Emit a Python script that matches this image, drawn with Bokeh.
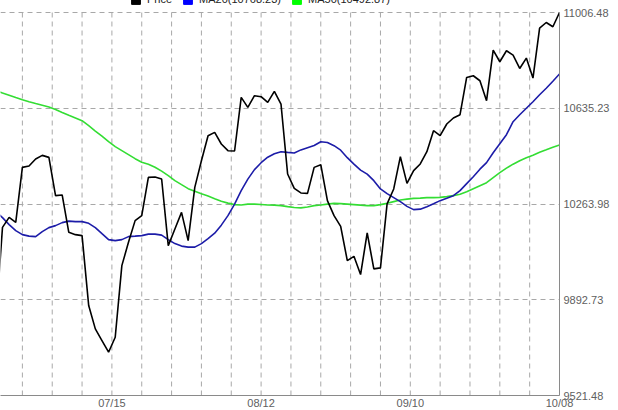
from bokeh.plotting import figure
from bokeh.models import Range1d, FixedTicker, Legend, LegendItem, PrintfTickFormatter, CustomJSTickFormatter
from bokeh.embed import file_html
from bokeh.resources import INLINE

# ---- data (index -1 is the partly clipped first point) ----
price = [
    9812.0,
    10173.5, 10212.3, 10192.9, 10406.0, 10411.4, 10438.5, 10452.5, 10444.7, 10296.3, 10299.0,
    10154.2, 10145.2, 10141.4, 9870.2, 9779.9, 9734.6, 9689.3, 9747.4, 10025.1, 10115.4,
    10199.5, 10218.9, 10367.2, 10368.4, 10361.0, 10102.6, 10167.3, 10231.6, 10122.0, 10328.5,
    10431.9, 10528.8, 10541.6, 10496.6, 10470.7, 10469.5, 10677.2, 10638.4, 10683.8, 10679.9,
    10657.8, 10700.4, 10651.6, 10380.4, 10324.6, 10306.8, 10305.2, 10406.0, 10416.4, 10277.0,
    10218.9, 10177.4, 10044.5, 10061.2, 9990.3, 10151.8, 10012.4, 10016.2, 10264.2, 10322.3,
    10447.4, 10344.0, 10393.2, 10419.1, 10466.8, 10548.2, 10528.8, 10574.1, 10597.4, 10610.2,
    10754.7, 10761.2, 10741.9, 10664.4, 10860.8, 10815.5, 10858.1, 10841.4, 10789.5, 10829.8,
    10752.3, 10946.0, 10967.7, 10951.1, 11006.48,
]
ma20 = [
    10234.3,
    10211.1, 10184.0, 10160.7, 10145.2, 10139.4, 10137.5, 10156.9, 10172.4, 10180.1, 10191.7,
    10197.5, 10195.6, 10195.6, 10189.0, 10172.4, 10149.1, 10125.9, 10122.0, 10125.9, 10137.5,
    10139.4, 10141.4, 10147.2, 10147.2, 10143.3, 10125.9, 10110.4, 10100.7, 10096.8, 10096.8,
    10110.4, 10129.7, 10151.0, 10182.0, 10218.8, 10263.4, 10315.7, 10360.3, 10397.1, 10424.2,
    10445.5, 10459.0, 10466.8, 10464.1, 10461.8, 10473.8, 10482.3, 10490.8, 10505.5, 10502.4,
    10490.0, 10472.6, 10443.6, 10418.4, 10395.1, 10379.6, 10354.4, 10322.3, 10304.1, 10288.6,
    10273.1, 10254.9, 10242.1, 10244.0, 10253.7, 10265.3, 10277.0, 10286.6, 10296.3, 10315.7,
    10342.8, 10369.9, 10399.0, 10424.2, 10462.9, 10497.8, 10532.7, 10583.0, 10610.1, 10635.3,
    10660.5, 10687.6, 10712.8, 10739.9, 10768.23,
]
ma50 = [
    10703.1,
    10694.2, 10685.7, 10676.8, 10668.3, 10660.5, 10653.5, 10646.9, 10640.0, 10630.7, 10618.7,
    10607.8, 10597.4, 10586.9, 10567.5, 10547.0, 10526.8, 10505.5, 10486.2, 10470.7, 10455.2,
    10439.7, 10426.1, 10418.4, 10406.7, 10391.2, 10373.8, 10354.4, 10338.9, 10323.5, 10313.8,
    10304.1, 10295.2, 10284.7, 10274.3, 10267.3, 10261.5, 10260.3, 10263.4, 10263.4, 10262.3,
    10260.3, 10259.5, 10257.6, 10253.7, 10250.6, 10249.1, 10252.6, 10257.6, 10260.3, 10263.4,
    10266.5, 10265.3, 10263.4, 10261.5, 10259.5, 10257.6, 10257.6, 10261.5, 10266.5, 10273.1,
    10279.7, 10282.8, 10285.9, 10286.6, 10288.6, 10288.6, 10289.8, 10292.5, 10296.3, 10302.1,
    10311.8, 10323.5, 10335.1, 10346.7, 10366.1, 10385.4, 10402.9, 10418.4, 10431.9, 10443.6,
    10453.2, 10464.9, 10474.5, 10484.2, 10492.87,
]
legend_labels = ["Price", "MA20(10768.23)", "MA50(10492.87)"]
x_tick_labels = ["07/15", "08/12", "09/10", "10/08"]
y_ticks = [9521.48, 9892.73, 10263.98, 10635.23, 11006.48]

xp = [i - 1 for i in range(len(price))]
x20 = [i - 1 for i in range(len(ma20))]
x50 = [i - 1 for i in range(len(ma50))]
last = xp[-1]

FONT = "Liberation Sans"
GRID = "#a8a8a8"
AXIS = "#8a8a8a"
LABEL = "#606060"
NAN = float("nan")

# plot area: 383 px for the tick span, plus 22 px headroom holding the (mostly off-page) legend
SPAN_PX, HEAD_PX = 383, 22
ymin, ymax = y_ticks[0], y_ticks[-1]
ytop = ymax + (ymax - ymin) * HEAD_PX / SPAN_PX

p = figure(frame_width=559, frame_height=SPAN_PX + HEAD_PX,
           x_range=Range1d(-0.3, last), y_range=Range1d(ymin, ytop),
           y_axis_location="right", output_backend="svg", toolbar_location=None,
           min_border_top=0, min_border_left=0, min_border_right=0, min_border_bottom=0)
p.styles = {"margin-top": "-10px", "margin-bottom": "-10px"}
p.outline_line_color = None
p.background_fill_color = "white"

# grids
grid_ticks = [last - 4.5 * j for j in range(19)]
label_ticks = [last - 22.5 * j for j in range(3, -1, -1)]
p.xgrid.visible = False
p.segment(x0=grid_ticks, y0=[ymin] * len(grid_ticks), x1=grid_ticks, y1=[ymax] * len(grid_ticks),
          line_color=GRID, line_dash="5 4", line_width=1)
p.ygrid.ticker = FixedTicker(ticks=y_ticks)
p.ygrid.grid_line_color = GRID
p.ygrid.grid_line_dash = "5 4"
p.ygrid.grid_line_width = 1

# axes
p.xaxis.ticker = FixedTicker(ticks=label_ticks)
p.xaxis.formatter = CustomJSTickFormatter(args=dict(pos=label_ticks, labs=x_tick_labels), code="""
    for (let i = 0; i < pos.length; i++) { if (Math.abs(pos[i] - tick) < 1e-6) return labs[i]; }
    return "";
""")
p.yaxis.ticker = FixedTicker(ticks=y_ticks)
p.yaxis.formatter = PrintfTickFormatter(format="%.2f")
p.yaxis.bounds = (ymin, ymax)
for ax in (p.xaxis, p.yaxis):
    ax.axis_line_color = AXIS
    ax.axis_line_width = 1
    ax.major_tick_out = 0
    ax.major_tick_in = 0
    ax.minor_tick_out = 0
    ax.minor_tick_in = 0
    ax.major_label_text_font = FONT
    ax.major_label_text_font_size = "11px"
    ax.major_label_text_color = LABEL
p.xaxis.major_label_standoff = 1
p.yaxis.major_label_standoff = 4

# lines
p.line(x50, ma50, line_color="#33dd33", line_width=1.6)
p.line(x20, ma20, line_color="#1c1ca8", line_width=1.6)
p.line(xp, price, line_color="black", line_width=1.6)

# legend swatches (renderers with a single undrawable NaN quad, so only the legend shows them)
swatch_colors = ["black", "#0000ff", "#00ff00"]
sw = [p.quad(left=[NAN], right=[NAN], top=[NAN], bottom=[NAN], fill_color=c, line_color=c)
      for c in swatch_colors]
legend = Legend(items=[LegendItem(label=l, renderers=[r]) for l, r in zip(legend_labels, sw)],
                orientation="horizontal", location=(130, SPAN_PX + 7),
                glyph_width=11, glyph_height=11, label_standoff=6, spacing=10,
                padding=0, margin=0, border_line_color=None, background_fill_alpha=0,
                label_text_font=FONT, label_text_font_size="11px", label_text_color="#222222",
                label_height=11)
p.add_layout(legend)

open("out.html", "w").write(file_html(p, INLINE))
